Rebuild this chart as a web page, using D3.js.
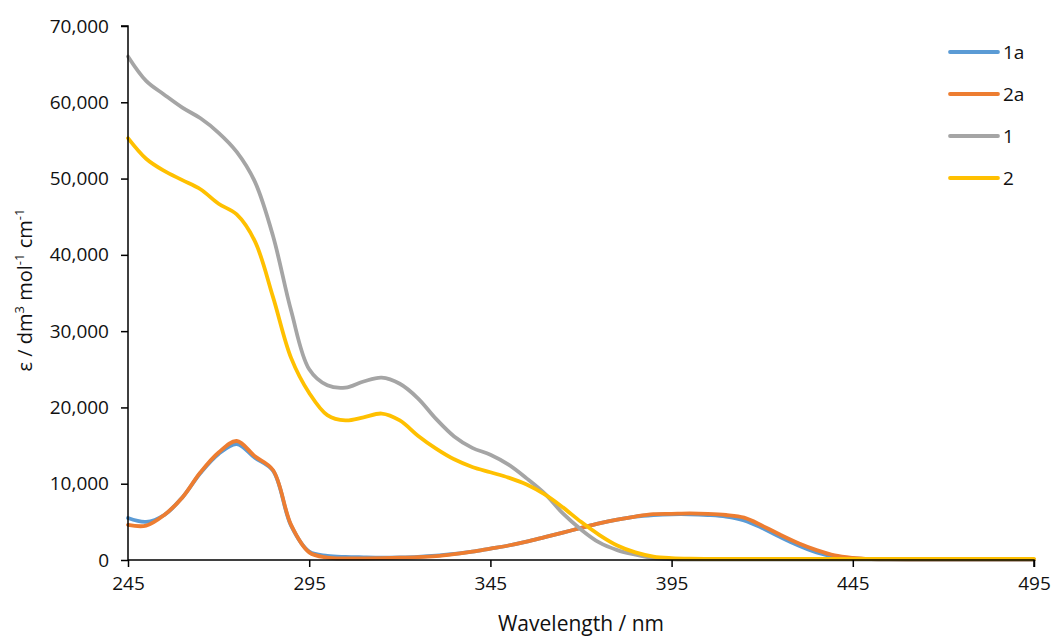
<!DOCTYPE html>
<html>
<head>
<meta charset="utf-8">
<script src="https://cdn.jsdelivr.net/npm/d3@7"></script>
<style>
  html, body { margin: 0; padding: 0; background: #fff; }
  svg { display: block; }
  text { font-family: "Open Sans", "Noto Sans", sans-serif; fill: #111; }
</style>
</head>
<body>
<svg id="chart" width="1055" height="638"></svg>
<script>
// Wavelength grid (nm)
const wavelengths = d3.range(245, 496, 5);

// Molar absorptivity, dm^3 mol^-1 cm^-1
const eps1a = [5500, 5000, 5900, 8200, 11400, 13900, 15200, 13400, 11700, 4500,
  1100, 550, 400, 350, 320, 350, 420, 560, 800, 1100,
  1500, 1900, 2400, 3000, 3600, 4200, 4800, 5300, 5700, 5900,
  6000, 6000, 5900, 5700, 5200, 4200, 3000, 1900, 1000, 450,
  200, 110, 80, 60, 60, 50, 50, 50, 50, 50, 50];
const eps2a = [4600, 4500, 5900, 8200, 11500, 14100, 15600, 13600, 11800, 4600,
  1000, 320, 220, 220, 250, 300, 380, 520, 780, 1100,
  1500, 1900, 2400, 3000, 3600, 4200, 4800, 5300, 5700, 6000,
  6050, 6100, 6050, 5900, 5550, 4500, 3300, 2200, 1300, 600,
  280, 130, 80, 60, 60, 50, 50, 50, 50, 50, 50];
const eps1 = [66000, 62800, 61000, 59300, 57900, 56000, 53500, 49600, 42500, 32700,
  25000, 22900, 22600, 23400, 23900, 23100, 21200, 18500, 16200, 14700,
  13800, 12500, 10700, 8700, 6100, 4000, 2300, 1300, 700, 250,
  100, 60, 50, 50, 50, 50, 50, 50, 50, 50,
  50, 50, 50, 50, 50, 50, 50, 50, 50, 50, 50];
const eps2 = [55300, 52600, 51000, 49800, 48600, 46700, 45300, 41800, 34500, 26500,
  21900, 19000, 18300, 18700, 19200, 18300, 16300, 14600, 13200, 12200,
  11500, 10800, 9900, 8600, 6900, 5000, 3300, 1900, 1000, 450,
  250, 170, 150, 150, 150, 150, 150, 150, 150, 150,
  150, 150, 150, 150, 150, 150, 150, 150, 150, 150, 150];

const seriesNames = ["1a", "2a", "1", "2"];
const seriesValues = [eps1a, eps2a, eps1, eps2];
const seriesColors = ["#5B9BD5", "#ED7D31", "#A5A5A5", "#FFC000"];

const xTicks = [245, 295, 345, 395, 445, 495];
const yTicks = d3.range(0, 70001, 10000);

const svg = d3.select("#chart");
const margin = { left: 128, right: 21, top: 26, bottom: 78 };
const W = 1055, H = 638;

const x = d3.scaleLinear().domain([245, 495]).range([margin.left, W - margin.right]);
const y = d3.scaleLinear().domain([0, 70000]).range([H - margin.bottom, margin.top]);

// Curves
const line = d3.line()
  .x(d => x(d[0]))
  .y(d => y(d[1]))
  .curve(d3.curveCatmullRom.alpha(0.5));

const plot = svg.append("g");
seriesNames.forEach((name, i) => {
  const pts = wavelengths.map((w, j) => [w, seriesValues[i][j]]);
  plot.append("path")
    .datum(pts)
    .attr("fill", "none")
    .attr("stroke", seriesColors[i])
    .attr("stroke-width", 3.8)
    .attr("stroke-linejoin", "round")
    .attr("stroke-linecap", "round")
    .attr("d", line);
});

// Axes
const yAxis = svg.append("g")
  .attr("transform", `translate(${margin.left},0)`)
  .call(d3.axisLeft(y).tickValues(yTicks).tickFormat(d3.format(",")).tickSize(7).tickPadding(12));
const xAxis = svg.append("g")
  .attr("transform", `translate(0,${H - margin.bottom})`)
  .call(d3.axisBottom(x).tickValues(xTicks).tickFormat(d3.format("d")).tickSize(7).tickPadding(10));

[yAxis, xAxis].forEach(g => {
  g.select(".domain").attr("stroke", "#000").attr("stroke-width", 1.5);
  g.selectAll(".tick line").attr("stroke", "#000").attr("stroke-width", 1.5);
  g.selectAll(".tick text").attr("font-size", 19).attr("fill", "#111")
    .attr("font-family", "'Open Sans', sans-serif");
});
yAxis.select(".domain").attr("d", `M-7,${y(70000)}H0V${y(0)}`);
xAxis.select(".domain").attr("d", `M${x(245)},0H${x(495)}V7`);

// Axis titles
svg.append("text")
  .attr("x", (margin.left + W - margin.right) / 2)
  .attr("y", 631)
  .attr("text-anchor", "middle")
  .attr("font-size", 21)
  .text("Wavelength / nm");

const yTitle = svg.append("text")
  .attr("transform", `translate(32,${(margin.top + H - margin.bottom) / 2 - 3}) rotate(-90)`)
  .attr("text-anchor", "middle")
  .attr("font-size", 20);
yTitle.append("tspan").text("ε / dm");
yTitle.append("tspan").attr("dy", -8).attr("font-size", 13).text("3");
yTitle.append("tspan").attr("dy", 8).text(" mol");
yTitle.append("tspan").attr("dy", -8).attr("font-size", 13).text("-1");
yTitle.append("tspan").attr("dy", 8).text(" cm");
yTitle.append("tspan").attr("dy", -8).attr("font-size", 13).text("-1");

// Legend
const legend = svg.append("g");
seriesNames.forEach((name, i) => {
  const ly = 52 + i * 42;
  legend.append("line")
    .attr("x1", 950).attr("x2", 998)
    .attr("y1", ly).attr("y2", ly)
    .attr("stroke", seriesColors[i])
    .attr("stroke-width", 3.8)
    .attr("stroke-linecap", "round");
  legend.append("text")
    .attr("x", 1003).attr("y", ly)
    .attr("dy", "0.35em")
    .attr("font-size", 19)
    .text(name);
});
</script>
</body>
</html>
